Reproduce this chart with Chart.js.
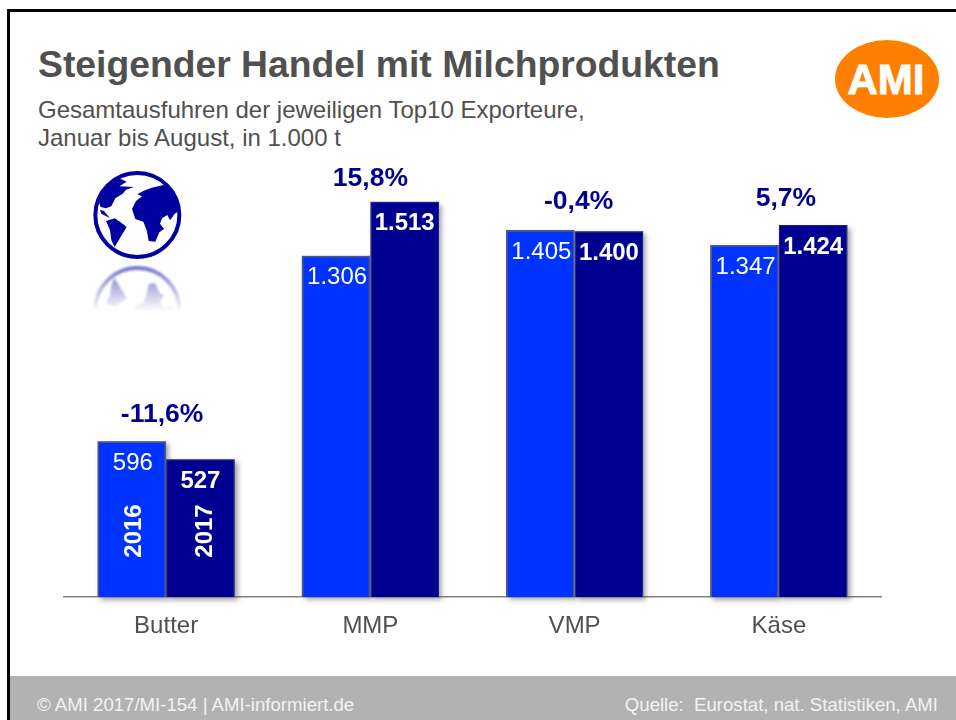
<!DOCTYPE html>
<html lang="de">
<head>
<meta charset="utf-8">
<title>Steigender Handel mit Milchprodukten</title>
<script src="https://cdn.jsdelivr.net/npm/chart.js@4"></script>
<style>
html,body{margin:0;padding:0;background:#fff;overflow:hidden}
#page{position:relative;width:956px;height:720px;overflow:hidden;font-family:"Liberation Sans",Arial,sans-serif}
#frame-top{position:absolute;left:7px;top:9px;right:0;height:3px;background:#000}
#frame-left{position:absolute;left:7px;top:9px;width:3px;bottom:0;background:#000}
#title{position:absolute;left:38px;top:43px;font-size:37.3px;line-height:42px;font-weight:bold;color:#505050;white-space:nowrap}
#sub{position:absolute;left:38px;top:96px;font-size:24px;line-height:28px;color:#505050;white-space:nowrap}
#footer{position:absolute;left:10px;right:0;top:676px;bottom:0;background:#b2b2b2;color:#f2f2f2;font-size:18.6px}
#footer .l{position:absolute;left:27px;top:18px;white-space:pre}
#footer .r{position:absolute;right:18px;top:18px;white-space:pre}
#logo{position:absolute;left:835px;top:40px;width:104px;height:78px;border-radius:50%;background:#ff7f00;color:#fff;font-weight:bold;font-size:42px;line-height:80px;text-align:center;-webkit-text-stroke:1px #fff;text-indent:-2px}
#globe{position:absolute;left:80px;top:165px}
canvas{position:absolute;left:0;top:0}
</style>
</head>
<body>
<div id="page">
  <div id="frame-top"></div><div id="frame-left"></div>
  <div id="title">Steigender Handel mit Milchprodukten</div>
  <div id="sub">Gesamtausfuhren der jeweiligen Top10 Exporteure,<br>Januar bis August, in 1.000 t</div>
  <div id="logo">AMI</div>
  <svg id="globe" width="115" height="150" viewBox="0 0 345 450">
    <defs>
      <clipPath id="disc"><circle cx="172" cy="150" r="126"/></clipPath>
      <g id="earth">
        <g clip-path="url(#disc)">
          <path fill="#0000a0" d="M190 78 215 68 250 60 300 80 310 130 296 138 284 146 270 166 262 150 246 160 240 176 252 192 238 202 226 230 206 228 200 196 190 170 166 162 156 132 168 108 186 94 172 88Z"/>
          <path fill="#0000a0" d="M58 108 80 66 118 40 140 50 118 64 162 66 138 74 128 86 106 100 94 124 78 130 62 126 58 116Z"/>
          <path fill="#0000a0" d="M78 168 104 160 122 172 140 186 124 212 110 236 104 246 94 226 90 196Z"/>
          <path fill="#0000a0" d="M60 134 72 138 90 160 76 152 64 146Z"/>
          <path fill="#0000a0" d="M233 212 238 196 233 192 227 208Z"/>
        </g>
        <circle cx="172" cy="150" r="126" fill="none" stroke="#0000a0" stroke-width="12"/>
      </g>
      <linearGradient id="fade" gradientUnits="userSpaceOnUse" x1="0" y1="305" x2="0" y2="440">
        <stop offset="0" stop-color="#fff" stop-opacity=".55"/>
        <stop offset="1" stop-color="#fff" stop-opacity="0"/>
      </linearGradient>
      <mask id="m" maskUnits="userSpaceOnUse" x="0" y="295" width="345" height="155"><rect x="0" y="295" width="345" height="145" fill="url(#fade)"/></mask>
      <filter id="b"><feGaussianBlur stdDeviation="3"/></filter>
      <filter id="s"><feGaussianBlur stdDeviation="1.2"/></filter>
    </defs>
    <use href="#earth" filter="url(#s)"/>
    <g mask="url(#m)"><use href="#earth" transform="matrix(1 0 0 -1 0 585)" filter="url(#b)"/></g>
  </svg>
  <div id="footer"><span class="l">© AMI 2017/MI-154 | AMI-informiert.de</span><span class="r">Quelle:  Eurostat, nat. Statistiken, AMI</span></div>
  <canvas id="c" width="956" height="720"></canvas>
</div>
<script>
const categories = ["Butter", "MMP", "VMP", "Käse"];
const series2016 = [596, 1306, 1405, 1347];
const series2017 = [527, 1513, 1400, 1424];
const changes = ["-11,6%", "15,8%", "-0,4%", "5,7%"];
const yearLabels = ["2016", "2017"];

const FONT = '"Liberation Sans", Arial, sans-serif';
const fmt = v => v >= 1000 ? String(v).replace(/(\d)(\d{3})$/, "$1.$2") : String(v);

const shadowPlugin = {
  id: "shadow",
  beforeDatasetsDraw(chart) {
    const c = chart.ctx;
    c.save();
    c.shadowColor = "rgba(70,70,70,.5)";
    c.shadowOffsetX = 3;
    c.shadowOffsetY = 3;
    c.shadowBlur = 5;
    c.fillStyle = "#808080";
    chart.data.datasets.forEach((_, d) => {
      chart.getDatasetMeta(d).data.forEach(r => {
        c.fillRect(r.x - r.width / 2, r.y, r.width, r.base - r.y);
      });
    });
    c.restore();
  }
};

const labelPlugin = {
  id: "labels",
  afterDatasetsDraw(chart) {
    const c = chart.ctx;
    const a = chart.getDatasetMeta(0).data;
    const b = chart.getDatasetMeta(1).data;
    c.save();
    c.textAlign = "center";
    c.textBaseline = "middle";
    c.fillStyle = "#fff";
    categories.forEach((_, i) => {
      c.font = "24px " + FONT;
      c.fillText(fmt(series2016[i]), a[i].x + 1, a[i].y + 22);
      c.font = "bold 24px " + FONT;
      c.fillText(fmt(series2017[i]), b[i].x, b[i].y + 22);
    });
    const base = chart.scales.y.getPixelForValue(0);
    const yearNudge = [3, 5];
    [a, b].forEach((m, k) => {
      c.save();
      c.translate(m[0].x + yearNudge[k], base - 66);
      c.rotate(-Math.PI / 2);
      c.font = "bold 24px " + FONT;
      c.fillText(yearLabels[k], 0, 0);
      c.restore();
    });
    c.fillStyle = "#000090";
    c.font = "bold 26.5px " + FONT;
    const nudgeX = [-4, 0, 4, 7];
    const nudgeY = [-27, -23, -28, -26];
    categories.forEach((_, i) => {
      const top = Math.min(a[i].y, b[i].y);
      const mid = (a[i].x + b[i].x) / 2;
      c.fillText(changes[i], mid + nudgeX[i], top + nudgeY[i]);
    });
    c.restore();
  }
};

new Chart(document.getElementById("c"), {
  type: "bar",
  data: {
    labels: categories,
    datasets: [
      { label: yearLabels[0], data: series2016, backgroundColor: "#0033ff", borderColor: "#555a70", borderWidth: 1.5 },
      { label: yearLabels[1], data: series2017, backgroundColor: "#000090", borderColor: "#1a1a9a", borderWidth: 1 }
    ]
  },
  options: {
    responsive: false,
    animation: false,
    devicePixelRatio: 1,
    layout: { padding: { left: 64, right: 75, top: 179, bottom: 83 } },
    categoryPercentage: 0.672,
    barPercentage: 1,
    plugins: { legend: { display: false }, tooltip: { enabled: false } },
    scales: {
      y: { display: false, min: 0, max: 1600 },
      x: {
        grid: { display: false, drawTicks: false },
        border: { display: true, color: "#808080", width: 1.5 },
        ticks: { color: "#505050", font: { family: FONT, size: 24 }, padding: 15, maxRotation: 0 },
        afterFit(s) { s.height = 40; }
      }
    }
  },
  plugins: [shadowPlugin, labelPlugin]
});
</script>
</body>
</html>
